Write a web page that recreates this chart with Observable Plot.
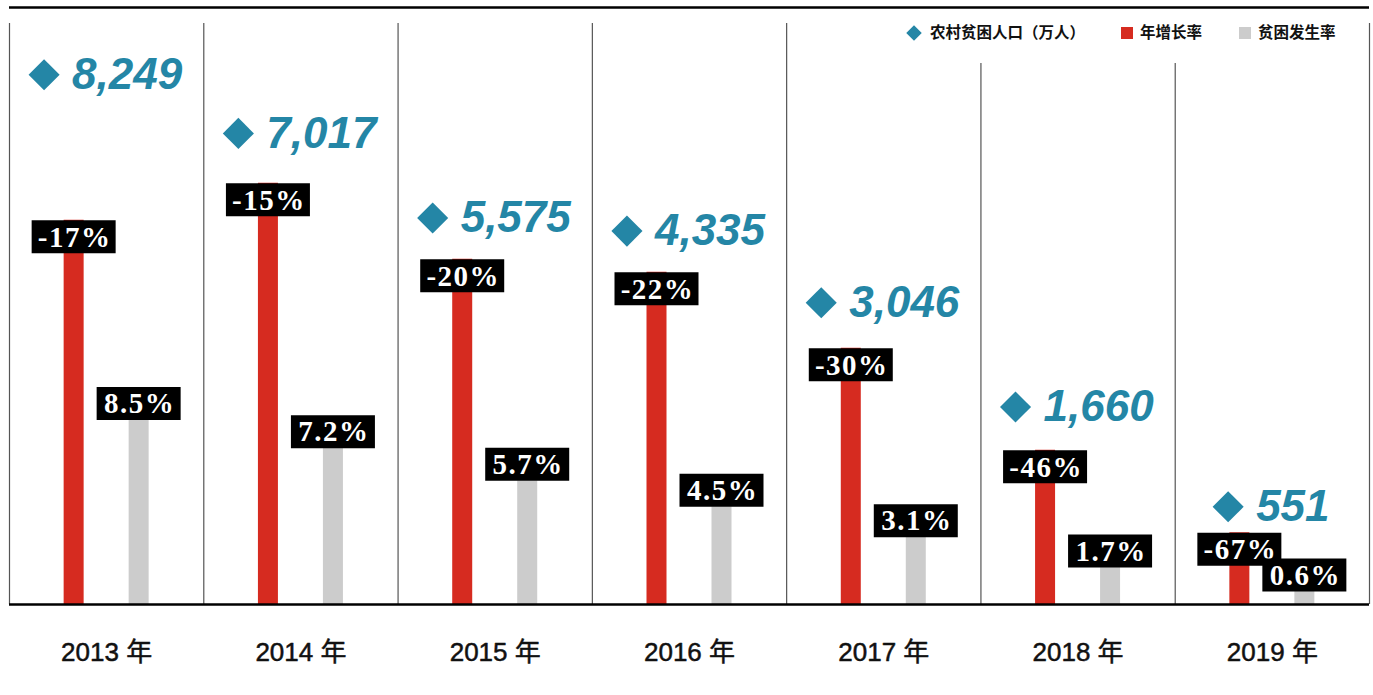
<!DOCTYPE html>
<html>
<head>
<meta charset="utf-8">
<script src="https://cdn.jsdelivr.net/npm/d3@7"></script>
<script src="https://cdn.jsdelivr.net/npm/@observablehq/plot@0.6"></script>
<style>
  html, body { margin: 0; padding: 0; background: #fff; }
  #wrap { position: relative; width: 1373px; height: 695px; }
  #wrap g[font-family*="Liberation Serif"] { letter-spacing: 1.5px; }
  .legend { position: absolute; top: 0; left: 0; font-family: "Noto Sans CJK SC", sans-serif; font-weight: bold; font-size: 15.5px; color: #111; }
  .legend span { position: absolute; white-space: nowrap; }
  .sw { width: 12px; height: 12px; display: block; }
</style>
</head>
<body>
<div id="wrap"></div>
<script>
// ---- data ----
const years = ["2013", "2014", "2015", "2016", "2017", "2018", "2019"];
const population = [8249, 7017, 5575, 4335, 3046, 1660, 551];          // 农村贫困人口（万人）
const growthRate = [-17, -15, -20, -22, -30, -46, -67];                 // 年增长率 (%)
const povertyRate = [8.5, 7.2, 5.7, 4.5, 3.1, 1.7, 0.6];                // 贫困发生率 (%)
// drawn length of the red bars and height of the diamond labels, in the chart's value units
const growthBarLen = [17.7, 19.4, 15.9, 15.3, 11.8, 7.1, 3.3];
const populationLevel = [24.4, 21.7, 17.8, 17.2, 13.9, 9.1, 4.5];

const legendItems = ["农村贫困人口（万人）", "年增长率", "贫困发生率"];

const TEAL = "#2486a6", RED = "#d62b20", GRAY = "#cccccc";

const W = 1373, H = 695, ML = 9, MR = 4;
const colW = (W - ML - MR) / years.length;

const fmt = d3.format(",");
const serif = "'Liberation Serif', 'DejaVu Serif', serif";
const sans = "'Liberation Sans', Arial, 'Noto Sans CJK SC', sans-serif";
const numFont = "italic bold 44px 'Liberation Sans'";

// measure the number text so that "◆ number" is centred in its column
const mctx = document.createElement("canvas").getContext("2d");
mctx.font = numFont;
const DIAM = 30, GAP = 13;

const rows = years.map((year, i) => {
  const label = fmt(population[i]);
  const tw = mctx.measureText(label).width;
  const gw = DIAM + GAP + tw;
  const left = -gw / 2 - 1;
  return {
    i, year,
    pop: population[i],
    label,
    growth: growthRate[i],
    poverty: povertyRate[i],
    barLen: growthBarLen[i],
    level: populationLevel[i],
    diamondX: i + (left + DIAM / 2) / colW,
    textX: i + (left + DIAM + GAP) / colW
  };
});

const tallSeps = [-0.5, 0.5, 1.5, 2.5, 3.5, 6.5];
const shortSeps = [4.5, 5.5];

const boxSymbol = {
  draw(ctx) {
    ctx.moveTo(-42, -16.5); ctx.lineTo(42, -16.5); ctx.lineTo(42, 16.5); ctx.lineTo(-42, 16.5); ctx.closePath();
  }
};

const chart = Plot.plot({
  width: W,
  height: H,
  marginTop: 7,
  marginBottom: 91,
  marginLeft: ML,
  marginRight: MR,
  x: { domain: [-0.5, 6.5], axis: null },
  y: { domain: [0, 27.5], axis: null },
  marks: [
    // column separators
    Plot.ruleX(tallSeps, { x: d => d, stroke: "#555", strokeWidth: 1.2, insetTop: 16 }),
    Plot.ruleX(shortSeps, { x: d => d, stroke: "#555", strokeWidth: 1.2, insetTop: 56 }),
    // top line
    Plot.ruleY([27.5], { stroke: "#000", strokeWidth: 2.6 }),
    // red bars (growth)
    Plot.ruleX(rows, { x: "i", y1: 0, y2: "barLen", dx: -33, stroke: RED, strokeWidth: 20 }),
    // gray bars (poverty rate)
    Plot.ruleX(rows, { x: "i", y1: 0, y2: "poverty", dx: 32, stroke: GRAY, strokeWidth: 20 }),
    // baseline
    Plot.ruleY([0], { stroke: "#000", strokeWidth: 2.6 }),
    // red labels
    Plot.dot(rows, { x: "i", y: "barLen", dx: -33, dy: 16.5, symbol: boxSymbol, fill: "#000", r: 1 }),
    Plot.text(rows, { x: "i", y: "barLen", dx: -32, dy: 17, text: d => d.growth + "%", fill: "#fff",
      fontFamily: serif, fontWeight: "bold", fontSize: 29 }),
    // gray labels
    Plot.dot(rows, { x: "i", y: "poverty", dx: 32, dy: -16.5, symbol: boxSymbol, fill: "#000", r: 1 }),
    Plot.text(rows, { x: "i", y: "poverty", dx: 33, dy: -16, text: d => d.poverty.toFixed(1) + "%", fill: "#fff",
      fontFamily: serif, fontWeight: "bold", fontSize: 29 }),
    // population diamonds + numbers
    Plot.dot(rows, { x: "diamondX", y: "level", symbol: "diamond2", r: 14, fill: TEAL }),
    Plot.text(rows, { x: "textX", y: "level", text: "label", textAnchor: "start", fill: TEAL,
      fontFamily: sans, fontWeight: "bold", fontStyle: "italic", fontSize: 44 }),
    // year labels
    Plot.text(rows, { x: "i", y: 0, dy: 48, text: d => d.year + " 年", fill: "#111", stroke: "#111", strokeWidth: 0.5,
      fontFamily: sans, fontSize: 26 })
  ]
});

const wrap = document.getElementById("wrap");
wrap.appendChild(chart);

// legend
const lg = document.createElement("div");
lg.className = "legend";
lg.innerHTML = `
  <span style="left:905px;top:24px;"><svg width="18" height="18"><rect x="3.5" y="3.5" width="11" height="11" fill="${TEAL}" transform="rotate(45 9 9)"/></svg></span>
  <span style="left:930px;top:20px;">${legendItems[0]}</span>
  <span style="left:1121px;top:26.5px;"><i class="sw" style="background:${RED}"></i></span>
  <span style="left:1140px;top:20px;">${legendItems[1]}</span>
  <span style="left:1239px;top:26.5px;"><i class="sw" style="background:${GRAY}"></i></span>
  <span style="left:1258px;top:20px;">${legendItems[2]}</span>
`;
wrap.appendChild(lg);
</script>
</body>
</html>
